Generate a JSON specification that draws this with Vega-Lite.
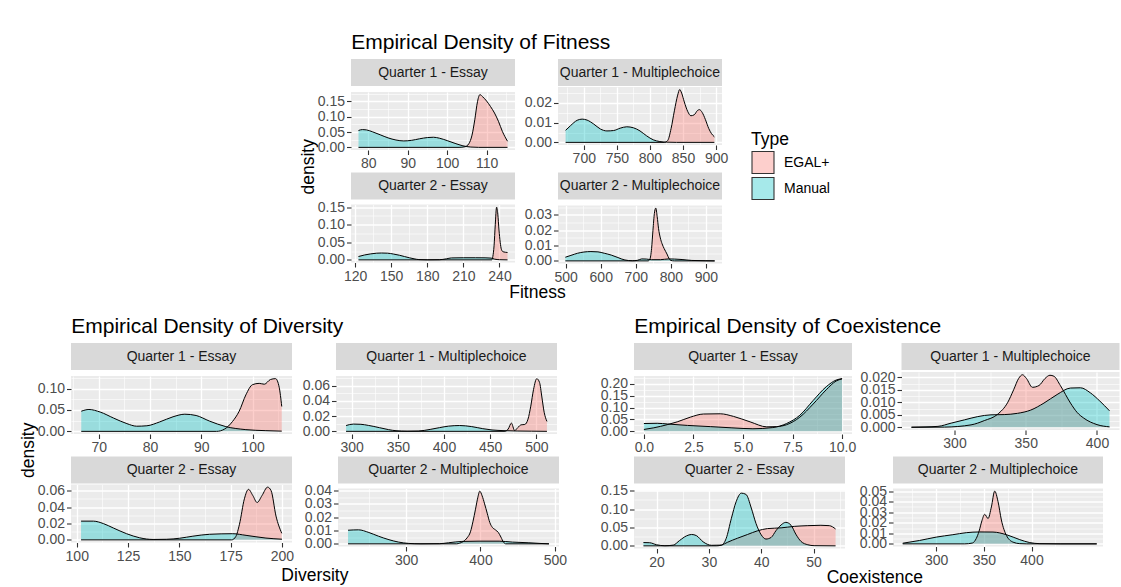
{
"$schema": "https://vega.github.io/schema/vega-lite/v6.json",
"background": "#FFFFFF",
"padding": {"left": 19, "top": 32, "right": 0, "bottom": 0},
"config": {
  "font": "Liberation Sans",
  "view": {"stroke": null},
  "axis": {"domain": false, "grid": true, "gridColor": "#FFFFFF", "tickColor": "#333333", "tickSize": 4.5, "tickWidth": 1.1, "labelColor": "#4D4D4D", "labelFont": "Liberation Sans", "labelFontSize": 14, "labelPadding": 2, "labelFlush": false, "labelOverlap": false, "labelBound": false},
  "legend": {"titleFont": "Liberation Sans", "titleFontSize": 17.5, "titleFontWeight": "normal", "titleColor": "#000000", "labelFont": "Liberation Sans", "labelFontSize": 14, "labelColor": "#000000", "symbolType": "square", "symbolSize": 484, "symbolStrokeColor": "#333333", "symbolStrokeWidth": 1.1, "rowPadding": -3, "titlePadding": 2, "offset": 23, "labelOffset": 9, "layout": {"right": {"anchor": "middle"}}},
  "title": {"font": "Liberation Sans", "fontWeight": "normal", "color": "#000000"}
},
"datasets": {
"fq1e": [
{"T":"Manual","x":77.5,"d":0.055},{"T":"Manual","x":78.5,"d":0.058},{"T":"Manual","x":79.5,"d":0.057},{"T":"Manual","x":81,"d":0.051},{"T":"Manual","x":83,"d":0.041},{"T":"Manual","x":85,"d":0.031},{"T":"Manual","x":87,"d":0.024},{"T":"Manual","x":89,"d":0.021},{"T":"Manual","x":91,"d":0.023},{"T":"Manual","x":93,"d":0.028},{"T":"Manual","x":95,"d":0.032},{"T":"Manual","x":96.5,"d":0.033},{"T":"Manual","x":98,"d":0.03},{"T":"Manual","x":100,"d":0.022},{"T":"Manual","x":102,"d":0.013},{"T":"Manual","x":104,"d":0.005},{"T":"Manual","x":106,"d":0.001},{"T":"Manual","x":108,"d":0},{"T":"Manual","x":115.3,"d":0},
{"T":"EGAL+","x":77.5,"d":0},{"T":"EGAL+","x":103,"d":0},{"T":"EGAL+","x":104.5,"d":0.002},{"T":"EGAL+","x":105.5,"d":0.012},{"T":"EGAL+","x":106.3,"d":0.04},{"T":"EGAL+","x":107,"d":0.09},{"T":"EGAL+","x":107.7,"d":0.15},{"T":"EGAL+","x":108.3,"d":0.172},{"T":"EGAL+","x":109,"d":0.165},{"T":"EGAL+","x":110,"d":0.151},{"T":"EGAL+","x":111,"d":0.133},{"T":"EGAL+","x":112,"d":0.112},{"T":"EGAL+","x":113,"d":0.085},{"T":"EGAL+","x":114,"d":0.052},{"T":"EGAL+","x":115.3,"d":0.02}
],
"fq1mc": [
{"T":"Manual","x":672.5,"d":0.0061},{"T":"Manual","x":680,"d":0.0085},{"T":"Manual","x":690,"d":0.0112},{"T":"Manual","x":697.5,"d":0.0118},{"T":"Manual","x":705,"d":0.0113},{"T":"Manual","x":715,"d":0.0093},{"T":"Manual","x":725,"d":0.0068},{"T":"Manual","x":735,"d":0.0058},{"T":"Manual","x":745,"d":0.006},{"T":"Manual","x":755,"d":0.0072},{"T":"Manual","x":765,"d":0.0079},{"T":"Manual","x":775,"d":0.0074},{"T":"Manual","x":785,"d":0.0058},{"T":"Manual","x":795,"d":0.0033},{"T":"Manual","x":805,"d":0.0013},{"T":"Manual","x":815,"d":0.0004},{"T":"Manual","x":825,"d":0.0001},{"T":"Manual","x":840,"d":0},{"T":"Manual","x":897.5,"d":0},
{"T":"EGAL+","x":672.5,"d":0},{"T":"EGAL+","x":822,"d":0},{"T":"EGAL+","x":827,"d":0.001},{"T":"EGAL+","x":832,"d":0.007},{"T":"EGAL+","x":837,"d":0.016},{"T":"EGAL+","x":842,"d":0.024},{"T":"EGAL+","x":845,"d":0.0268},{"T":"EGAL+","x":848,"d":0.025},{"T":"EGAL+","x":852,"d":0.0205},{"T":"EGAL+","x":857,"d":0.0158},{"T":"EGAL+","x":862,"d":0.0135},{"T":"EGAL+","x":867,"d":0.014},{"T":"EGAL+","x":872,"d":0.0162},{"T":"EGAL+","x":875,"d":0.0166},{"T":"EGAL+","x":879,"d":0.0152},{"T":"EGAL+","x":884,"d":0.0115},{"T":"EGAL+","x":889,"d":0.007},{"T":"EGAL+","x":893,"d":0.0045},{"T":"EGAL+","x":897.5,"d":0.0028}
],
"fq2e": [
{"T":"Manual","x":122.8,"d":0.0095},{"T":"Manual","x":128,"d":0.014},{"T":"Manual","x":133,"d":0.017},{"T":"Manual","x":138,"d":0.019},{"T":"Manual","x":142,"d":0.0195},{"T":"Manual","x":147,"d":0.019},{"T":"Manual","x":152,"d":0.0165},{"T":"Manual","x":157,"d":0.013},{"T":"Manual","x":161,"d":0.0095},{"T":"Manual","x":165,"d":0.006},{"T":"Manual","x":169,"d":0.003},{"T":"Manual","x":173,"d":0.0008},{"T":"Manual","x":180,"d":0.0001},{"T":"Manual","x":190,"d":0.0004},{"T":"Manual","x":196,"d":0.003},{"T":"Manual","x":200,"d":0.0055},{"T":"Manual","x":210,"d":0.006},{"T":"Manual","x":220,"d":0.006},{"T":"Manual","x":228,"d":0.0058},{"T":"Manual","x":233,"d":0.005},{"T":"Manual","x":236,"d":0.002},{"T":"Manual","x":240,"d":0.0005},{"T":"Manual","x":246.7,"d":0},
{"T":"EGAL+","x":122.8,"d":0},{"T":"EGAL+","x":233.5,"d":0},{"T":"EGAL+","x":234.5,"d":0.01},{"T":"EGAL+","x":235.5,"d":0.04},{"T":"EGAL+","x":236.5,"d":0.1},{"T":"EGAL+","x":237.6,"d":0.15},{"T":"EGAL+","x":238.6,"d":0.13},{"T":"EGAL+","x":239.6,"d":0.085},{"T":"EGAL+","x":240.6,"d":0.05},{"T":"EGAL+","x":241.6,"d":0.03},{"T":"EGAL+","x":243,"d":0.023},{"T":"EGAL+","x":246.7,"d":0.021}
],
"fq2mc": [
{"T":"Manual","x":499,"d":0.0024},{"T":"Manual","x":515,"d":0.0036},{"T":"Manual","x":534,"d":0.005},{"T":"Manual","x":552,"d":0.0058},{"T":"Manual","x":572,"d":0.0061},{"T":"Manual","x":592,"d":0.0059},{"T":"Manual","x":610,"d":0.005},{"T":"Manual","x":630,"d":0.0038},{"T":"Manual","x":649,"d":0.0022},{"T":"Manual","x":660,"d":0.0012},{"T":"Manual","x":669,"d":0.0006},{"T":"Manual","x":690,"d":0.0001},{"T":"Manual","x":705,"d":0.0004},{"T":"Manual","x":717,"d":0.0013},{"T":"Manual","x":730,"d":0.0012},{"T":"Manual","x":745,"d":0.0008},{"T":"Manual","x":770,"d":0.0008},{"T":"Manual","x":794,"d":0.0013},{"T":"Manual","x":810,"d":0.0012},{"T":"Manual","x":832,"d":0.0009},{"T":"Manual","x":860,"d":0.0003},{"T":"Manual","x":900,"d":0.0001},{"T":"Manual","x":925,"d":0},
{"T":"EGAL+","x":499,"d":0},{"T":"EGAL+","x":735,"d":0},{"T":"EGAL+","x":740,"d":0.001},{"T":"EGAL+","x":745,"d":0.008},{"T":"EGAL+","x":749,"d":0.02},{"T":"EGAL+","x":753,"d":0.031},{"T":"EGAL+","x":757,"d":0.0345},{"T":"EGAL+","x":761,"d":0.029},{"T":"EGAL+","x":765,"d":0.021},{"T":"EGAL+","x":770,"d":0.015},{"T":"EGAL+","x":775,"d":0.0112},{"T":"EGAL+","x":781,"d":0.008},{"T":"EGAL+","x":789,"d":0.0045},{"T":"EGAL+","x":795,"d":0.0015},{"T":"EGAL+","x":800,"d":0.0003},{"T":"EGAL+","x":810,"d":0},{"T":"EGAL+","x":925,"d":0}
],
"dq1e": [
{"T":"Manual","x":66.6,"d":0.047},{"T":"Manual","x":68.1,"d":0.051},{"T":"Manual","x":70.3,"d":0.045},{"T":"Manual","x":72.9,"d":0.031},{"T":"Manual","x":75.5,"d":0.018},{"T":"Manual","x":77.4,"d":0.012},{"T":"Manual","x":79.4,"d":0.013},{"T":"Manual","x":81.9,"d":0.022},{"T":"Manual","x":84.5,"d":0.034},{"T":"Manual","x":86.8,"d":0.04},{"T":"Manual","x":89,"d":0.037},{"T":"Manual","x":91.6,"d":0.024},{"T":"Manual","x":94.8,"d":0.011},{"T":"Manual","x":98.7,"d":0.004},{"T":"Manual","x":102.6,"d":0.0016},{"T":"Manual","x":105.7,"d":0.0005},
{"T":"EGAL+","x":66.6,"d":0},{"T":"EGAL+","x":93,"d":0},{"T":"EGAL+","x":94.5,"d":0.005},{"T":"EGAL+","x":96.1,"d":0.023},{"T":"EGAL+","x":97.4,"d":0.047},{"T":"EGAL+","x":98.7,"d":0.085},{"T":"EGAL+","x":100,"d":0.109},{"T":"EGAL+","x":101.3,"d":0.112},{"T":"EGAL+","x":102.3,"d":0.11},{"T":"EGAL+","x":103.5,"d":0.121},{"T":"EGAL+","x":104.5,"d":0.123},{"T":"EGAL+","x":105.2,"d":0.103},{"T":"EGAL+","x":105.7,"d":0.058}
],
"dq1mc": [
{"T":"Manual","x":293.9,"d":0.0076},{"T":"Manual","x":301.8,"d":0.0095},{"T":"Manual","x":310,"d":0.0092},{"T":"Manual","x":318,"d":0.0078},{"T":"Manual","x":330,"d":0.0048},{"T":"Manual","x":340,"d":0.0022},{"T":"Manual","x":348,"d":0.0008},{"T":"Manual","x":360,"d":0.0002},{"T":"Manual","x":372,"d":0.0004},{"T":"Manual","x":385,"d":0.0025},{"T":"Manual","x":395,"d":0.0048},{"T":"Manual","x":405,"d":0.0068},{"T":"Manual","x":417,"d":0.0076},{"T":"Manual","x":430,"d":0.0062},{"T":"Manual","x":442,"d":0.0035},{"T":"Manual","x":452,"d":0.0018},{"T":"Manual","x":465,"d":0.0009},{"T":"Manual","x":480,"d":0.0004},{"T":"Manual","x":495,"d":0.0002},{"T":"Manual","x":511.5,"d":0},
{"T":"EGAL+","x":293.9,"d":0},{"T":"EGAL+","x":466,"d":0},{"T":"EGAL+","x":469.5,"d":0.003},{"T":"EGAL+","x":473,"d":0.0108},{"T":"EGAL+","x":476.5,"d":0.001},{"T":"EGAL+","x":480,"d":0.005},{"T":"EGAL+","x":483.5,"d":0.0085},{"T":"EGAL+","x":487.5,"d":0.009},{"T":"EGAL+","x":491,"d":0.016},{"T":"EGAL+","x":494,"d":0.033},{"T":"EGAL+","x":497,"d":0.055},{"T":"EGAL+","x":500.5,"d":0.069},{"T":"EGAL+","x":503.5,"d":0.064},{"T":"EGAL+","x":506,"d":0.045},{"T":"EGAL+","x":508.5,"d":0.025},{"T":"EGAL+","x":511.5,"d":0.013}
],
"dq2e": [
{"T":"Manual","x":102.1,"d":0.0228},{"T":"Manual","x":108.1,"d":0.0228},{"T":"Manual","x":113,"d":0.0198},{"T":"Manual","x":117.8,"d":0.0145},{"T":"Manual","x":124.3,"d":0.0075},{"T":"Manual","x":130.7,"d":0.0025},{"T":"Manual","x":137.2,"d":0.0005},{"T":"Manual","x":143.7,"d":0.0007},{"T":"Manual","x":150.2,"d":0.002},{"T":"Manual","x":156.6,"d":0.0045},{"T":"Manual","x":164.7,"d":0.0068},{"T":"Manual","x":176,"d":0.0075},{"T":"Manual","x":182.5,"d":0.0055},{"T":"Manual","x":192.2,"d":0.0022},{"T":"Manual","x":200,"d":0.0008},
{"T":"EGAL+","x":102.1,"d":0},{"T":"EGAL+","x":175.5,"d":0},{"T":"EGAL+","x":177.5,"d":0.004},{"T":"EGAL+","x":179.3,"d":0.019},{"T":"EGAL+","x":181.7,"d":0.05},{"T":"EGAL+","x":183.7,"d":0.0615},{"T":"EGAL+","x":185.8,"d":0.054},{"T":"EGAL+","x":187.9,"d":0.0455},{"T":"EGAL+","x":190.3,"d":0.054},{"T":"EGAL+","x":193,"d":0.0642},{"T":"EGAL+","x":194.7,"d":0.06},{"T":"EGAL+","x":197.1,"d":0.029},{"T":"EGAL+","x":199.9,"d":0.008}
],
"dq2mc": [
{"T":"Manual","x":222,"d":0.0102},{"T":"Manual","x":236,"d":0.0105},{"T":"Manual","x":250,"d":0.0085},{"T":"Manual","x":263,"d":0.0057},{"T":"Manual","x":277,"d":0.0031},{"T":"Manual","x":290,"d":0.0013},{"T":"Manual","x":303.6,"d":0.0003},{"T":"Manual","x":320,"d":0},{"T":"Manual","x":345,"d":0.0001},{"T":"Manual","x":357,"d":0.0008},{"T":"Manual","x":375,"d":0.0018},{"T":"Manual","x":398,"d":0.002},{"T":"Manual","x":425,"d":0.002},{"T":"Manual","x":443,"d":0.0013},{"T":"Manual","x":465,"d":0.0008},{"T":"Manual","x":480,"d":0.0003},{"T":"Manual","x":492,"d":0},
{"T":"EGAL+","x":222,"d":0},{"T":"EGAL+","x":368,"d":0},{"T":"EGAL+","x":372,"d":0.0005},{"T":"EGAL+","x":377,"d":0.0018},{"T":"EGAL+","x":382,"d":0.0045},{"T":"EGAL+","x":386.5,"d":0.009},{"T":"EGAL+","x":390,"d":0.017},{"T":"EGAL+","x":393.3,"d":0.026},{"T":"EGAL+","x":396.5,"d":0.035},{"T":"EGAL+","x":399,"d":0.0395},{"T":"EGAL+","x":402.2,"d":0.036},{"T":"EGAL+","x":405.5,"d":0.03},{"T":"EGAL+","x":409,"d":0.023},{"T":"EGAL+","x":412.5,"d":0.016},{"T":"EGAL+","x":416,"d":0.0123},{"T":"EGAL+","x":420,"d":0.0105},{"T":"EGAL+","x":424,"d":0.0085},{"T":"EGAL+","x":427.5,"d":0.005},{"T":"EGAL+","x":431,"d":0.0012},{"T":"EGAL+","x":434,"d":0},{"T":"EGAL+","x":492,"d":0}
],
"cq1e": [
{"T":"Manual","x":0,"d":0.033},{"T":"Manual","x":0.67,"d":0.034},{"T":"Manual","x":1.2,"d":0.031},{"T":"Manual","x":2.2,"d":0.025},{"T":"Manual","x":3.35,"d":0.02},{"T":"Manual","x":4.4,"d":0.015},{"T":"Manual","x":5.5,"d":0.011},{"T":"Manual","x":6.5,"d":0.016},{"T":"Manual","x":7.2,"d":0.033},{"T":"Manual","x":7.87,"d":0.068},{"T":"Manual","x":8.54,"d":0.13},{"T":"Manual","x":9.2,"d":0.188},{"T":"Manual","x":9.7,"d":0.216},{"T":"Manual","x":10,"d":0.222},
{"T":"EGAL+","x":0,"d":0.008},{"T":"EGAL+","x":0.5,"d":0.015},{"T":"EGAL+","x":1.17,"d":0.028},{"T":"EGAL+","x":1.68,"d":0.04},{"T":"EGAL+","x":2.35,"d":0.06},{"T":"EGAL+","x":3,"d":0.073},{"T":"EGAL+","x":3.85,"d":0.074},{"T":"EGAL+","x":4.52,"d":0.063},{"T":"EGAL+","x":5.36,"d":0.04},{"T":"EGAL+","x":6.2,"d":0.019},{"T":"EGAL+","x":6.7,"d":0.02},{"T":"EGAL+","x":7.2,"d":0.028},{"T":"EGAL+","x":7.87,"d":0.06},{"T":"EGAL+","x":8.54,"d":0.115},{"T":"EGAL+","x":9.2,"d":0.175},{"T":"EGAL+","x":9.7,"d":0.212},{"T":"EGAL+","x":10,"d":0.221}
],
"cq1mc": [
{"T":"Manual","x":269.8,"d":0.0001},{"T":"Manual","x":280,"d":0.0002},{"T":"Manual","x":288.4,"d":0.0004},{"T":"Manual","x":297.7,"d":0.0017},{"T":"Manual","x":307,"d":0.003},{"T":"Manual","x":316.3,"d":0.0043},{"T":"Manual","x":325.6,"d":0.005},{"T":"Manual","x":334.9,"d":0.0051},{"T":"Manual","x":344.2,"d":0.0056},{"T":"Manual","x":353.5,"d":0.0069},{"T":"Manual","x":362.8,"d":0.0097},{"T":"Manual","x":372,"d":0.0131},{"T":"Manual","x":381.4,"d":0.0157},{"T":"Manual","x":388.4,"d":0.0158},{"T":"Manual","x":395.3,"d":0.0138},{"T":"Manual","x":402,"d":0.0105},{"T":"Manual","x":408.8,"d":0.0066},
{"T":"EGAL+","x":269.8,"d":0},{"T":"EGAL+","x":293,"d":0.0001},{"T":"EGAL+","x":311.6,"d":0.001},{"T":"EGAL+","x":320.9,"d":0.0027},{"T":"EGAL+","x":330.2,"d":0.0052},{"T":"EGAL+","x":337.2,"d":0.0098},{"T":"EGAL+","x":341.5,"d":0.015},{"T":"EGAL+","x":345,"d":0.0195},{"T":"EGAL+","x":347.7,"d":0.021},{"T":"EGAL+","x":350.5,"d":0.0195},{"T":"EGAL+","x":354.7,"d":0.016},{"T":"EGAL+","x":359.3,"d":0.0167},{"T":"EGAL+","x":363.5,"d":0.0195},{"T":"EGAL+","x":367,"d":0.0208},{"T":"EGAL+","x":369.8,"d":0.0204},{"T":"EGAL+","x":374.4,"d":0.0166},{"T":"EGAL+","x":381.4,"d":0.0097},{"T":"EGAL+","x":386,"d":0.006},{"T":"EGAL+","x":390.7,"d":0.0037},{"T":"EGAL+","x":400,"d":0.0011},{"T":"EGAL+","x":408.8,"d":0.0002}
],
"cq2e": [
{"T":"Manual","x":17.5,"d":0.009},{"T":"Manual","x":18.7,"d":0.0085},{"T":"Manual","x":20,"d":0.003},{"T":"Manual","x":21.6,"d":0.0003},{"T":"Manual","x":23.2,"d":0.002},{"T":"Manual","x":24.4,"d":0.0145},{"T":"Manual","x":25.7,"d":0.027},{"T":"Manual","x":26.7,"d":0.031},{"T":"Manual","x":27.6,"d":0.028},{"T":"Manual","x":28.9,"d":0.011},{"T":"Manual","x":30.5,"d":0.0015},{"T":"Manual","x":32.4,"d":0.002},{"T":"Manual","x":33.3,"d":0.02},{"T":"Manual","x":34.3,"d":0.075},{"T":"Manual","x":35.2,"d":0.12},{"T":"Manual","x":36.2,"d":0.1435},{"T":"Manual","x":37.1,"d":0.14},{"T":"Manual","x":38.1,"d":0.103},{"T":"Manual","x":39,"d":0.061},{"T":"Manual","x":40,"d":0.03},{"T":"Manual","x":40.9,"d":0.0185},{"T":"Manual","x":41.9,"d":0.023},{"T":"Manual","x":42.8,"d":0.041},{"T":"Manual","x":43.8,"d":0.057},{"T":"Manual","x":44.7,"d":0.064},{"T":"Manual","x":45.7,"d":0.056},{"T":"Manual","x":46.6,"d":0.032},{"T":"Manual","x":47.6,"d":0.012},{"T":"Manual","x":48.9,"d":0.003},{"T":"Manual","x":50.1,"d":0.0005},{"T":"Manual","x":54.2,"d":0},
{"T":"EGAL+","x":17.5,"d":0},{"T":"EGAL+","x":31.5,"d":0},{"T":"EGAL+","x":32.4,"d":0.002},{"T":"EGAL+","x":33.6,"d":0.01},{"T":"EGAL+","x":35.5,"d":0.021},{"T":"EGAL+","x":37.4,"d":0.031},{"T":"EGAL+","x":39.3,"d":0.041},{"T":"EGAL+","x":41.2,"d":0.047},{"T":"EGAL+","x":43.8,"d":0.049},{"T":"EGAL+","x":46.3,"d":0.053},{"T":"EGAL+","x":48.9,"d":0.055},{"T":"EGAL+","x":51.4,"d":0.056},{"T":"EGAL+","x":53,"d":0.055},{"T":"EGAL+","x":54.2,"d":0.046}
],
"cq2mc": [
{"T":"Manual","x":264.9,"d":0.0006},{"T":"Manual","x":282.5,"d":0.0032},{"T":"Manual","x":300,"d":0.0064},{"T":"Manual","x":317.5,"d":0.0087},{"T":"Manual","x":331.6,"d":0.0106},{"T":"Manual","x":345.6,"d":0.0113},{"T":"Manual","x":359.6,"d":0.0112},{"T":"Manual","x":373.7,"d":0.0087},{"T":"Manual","x":387.7,"d":0.004},{"T":"Manual","x":398.2,"d":0.0012},{"T":"Manual","x":408.8,"d":0.0002},{"T":"Manual","x":430,"d":0},{"T":"Manual","x":468.4,"d":0},
{"T":"EGAL+","x":264.9,"d":0},{"T":"EGAL+","x":330,"d":0},{"T":"EGAL+","x":338,"d":0.0008},{"T":"EGAL+","x":342,"d":0.005},{"T":"EGAL+","x":345,"d":0.012},{"T":"EGAL+","x":348,"d":0.022},{"T":"EGAL+","x":350.9,"d":0.028},{"T":"EGAL+","x":354.4,"d":0.024},{"T":"EGAL+","x":357.9,"d":0.035},{"T":"EGAL+","x":361.4,"d":0.05},{"T":"EGAL+","x":364.9,"d":0.04},{"T":"EGAL+","x":368.4,"d":0.0226},{"T":"EGAL+","x":373.7,"d":0.008},{"T":"EGAL+","x":380.7,"d":0.0016},{"T":"EGAL+","x":387.7,"d":0.0002},{"T":"EGAL+","x":395,"d":0},{"T":"EGAL+","x":468.4,"d":0}
]
},
"spacing": 14,
"resolve": {"scale": {"fill": "independent"}, "legend": {"fill": "independent"}},
"vconcat": [
{"spacing": 0, "hconcat": [
{"width": 228, "height": 10, "data": {"values": []}, "mark": {"type": "text"}, "encoding": {}},
{
 "title": {"text": "density", "orient": "left", "anchor": "middle", "fontSize": 17.5, "offset": 0},
 "vconcat": [{
  "title": {"text": "Fitness", "orient": "bottom", "anchor": "middle", "fontSize": 17.5, "offset": 0, "dx": 15},
  "vconcat": [{
   "title": {"text": "Empirical Density of Fitness", "anchor": "start", "fontSize": 21, "offset": 6, "dx": 34},
   "spacing": 1.5,
   "vconcat": [
    {"spacing": 9, "hconcat": [
     {"spacing": 0, "vconcat": [
      {"width": 164, "height": 27, "view": {"fill": "#D9D9D9", "stroke": null}, "data": {"values": [{"s": "Quarter 1 - Essay"}]}, "mark": {"type": "text", "fontSize": 14, "color": "#1A1A1A", "font": "Liberation Sans"}, "encoding": {"text": {"field": "s", "type": "nominal"}}},
      {"width": 164, "height": 58, "view": {"fill": "#EBEBEB", "stroke": null}, "data": {"name": "fq1e"},
       "encoding": {
        "x": {"field": "x", "type": "quantitative", "scale": {"domain": [75.6, 117.2], "nice": false, "zero": false}, "axis": {"title": null, "values": [80,85,90,95,100,105,110,115], "format": "d", "labelExpr": "abs(datum.value/10-round(datum.value/10))>0.01?'':datum.label", "gridWidth": {"condition": {"test": "abs(datum.value/10-round(datum.value/10))>0.01", "value": 0.6}, "value": 1.3}, "tickOpacity": {"condition": {"test": "abs(datum.value/10-round(datum.value/10))>0.01", "value": 0}, "value": 1}}},
        "y": {"field": "d", "type": "quantitative", "scale": {"domain": [-0.0086, 0.1806], "nice": false, "zero": false}, "axis": {"title": null, "values": [0,0.025,0.05,0.075,0.1,0.125,0.15,0.175], "format": ".2f", "labelExpr": "abs(datum.value/0.05-round(datum.value/0.05))>0.01?'':datum.label", "gridWidth": {"condition": {"test": "abs(datum.value/0.05-round(datum.value/0.05))>0.01", "value": 0.6}, "value": 1.3}, "tickOpacity": {"condition": {"test": "abs(datum.value/0.05-round(datum.value/0.05))>0.01", "value": 0}, "value": 1}}}
       },
       "layer": [
        {"transform": [{"filter": "datum.T == 'EGAL+'"}], "mark": {"type": "area", "interpolate": "monotone", "fillOpacity": 0.35}, "encoding": {"fill": {"field": "T", "type": "nominal", "scale": {"domain": ["EGAL+", "Manual"], "range": ["#F8766D", "#00BFC4"]}, "legend": {"title": "Type", "encode": {"symbols": {"update": {"fillOpacity": {"value": 0.35}, "stroke": {"value": "#333333"}, "strokeWidth": {"value": 1.1}}}}}}, "y2": {"datum": 0}}},
        {"transform": [{"filter": "datum.T == 'Manual'"}], "mark": {"type": "area", "interpolate": "monotone", "fillOpacity": 0.35}, "encoding": {"fill": {"field": "T", "type": "nominal", "scale": {"domain": ["EGAL+", "Manual"], "range": ["#F8766D", "#00BFC4"]}, "legend": {"title": "Type", "encode": {"symbols": {"update": {"fillOpacity": {"value": 0.35}, "stroke": {"value": "#333333"}, "strokeWidth": {"value": 1.1}}}}}}, "y2": {"datum": 0}}},
        {"mark": {"type": "line", "interpolate": "monotone", "color": "#000000", "strokeWidth": 1}, "encoding": {"detail": {"field": "T", "type": "nominal"}}}
       ]}
     ]},
     {"spacing": 0, "vconcat": [
      {"width": 164, "height": 27, "view": {"fill": "#D9D9D9", "stroke": null}, "data": {"values": [{"s": "Quarter 1 - Multiplechoice"}]}, "mark": {"type": "text", "fontSize": 14, "color": "#1A1A1A", "font": "Liberation Sans"}, "encoding": {"text": {"field": "s", "type": "nominal"}}},
      {"width": 164, "height": 58, "view": {"fill": "#EBEBEB", "stroke": null}, "data": {"name": "fq1mc"},
       "encoding": {
        "x": {"field": "x", "type": "quantitative", "scale": {"domain": [661, 909], "nice": false, "zero": false}, "axis": {"title": null, "values": [675,700,725,750,775,800,825,850,875,900], "format": "d", "labelExpr": "abs(datum.value/50-round(datum.value/50))>0.01?'':datum.label", "gridWidth": {"condition": {"test": "abs(datum.value/50-round(datum.value/50))>0.01", "value": 0.6}, "value": 1.3}, "tickOpacity": {"condition": {"test": "abs(datum.value/50-round(datum.value/50))>0.01", "value": 0}, "value": 1}}},
        "y": {"field": "d", "type": "quantitative", "scale": {"domain": [-0.00134, 0.0281], "nice": false, "zero": false}, "axis": {"title": null, "values": [0,0.005,0.01,0.015,0.02,0.025], "format": ".2f", "labelExpr": "abs(datum.value/0.01-round(datum.value/0.01))>0.01?'':datum.label", "gridWidth": {"condition": {"test": "abs(datum.value/0.01-round(datum.value/0.01))>0.01", "value": 0.6}, "value": 1.3}, "tickOpacity": {"condition": {"test": "abs(datum.value/0.01-round(datum.value/0.01))>0.01", "value": 0}, "value": 1}}}
       },
       "layer": [
        {"transform": [{"filter": "datum.T == 'EGAL+'"}], "mark": {"type": "area", "interpolate": "monotone", "fillOpacity": 0.35}, "encoding": {"fill": {"field": "T", "type": "nominal", "scale": {"domain": ["EGAL+", "Manual"], "range": ["#F8766D", "#00BFC4"]}, "legend": null}, "y2": {"datum": 0}}},
        {"transform": [{"filter": "datum.T == 'Manual'"}], "mark": {"type": "area", "interpolate": "monotone", "fillOpacity": 0.35}, "encoding": {"fill": {"field": "T", "type": "nominal", "scale": {"domain": ["EGAL+", "Manual"], "range": ["#F8766D", "#00BFC4"]}, "legend": null}, "y2": {"datum": 0}}},
        {"mark": {"type": "line", "interpolate": "monotone", "color": "#000000", "strokeWidth": 1}, "encoding": {"detail": {"field": "T", "type": "nominal"}}}
       ]}
     ]}
    ]},
    {"spacing": 9, "hconcat": [
     {"spacing": 0, "vconcat": [
      {"width": 164, "height": 27, "view": {"fill": "#D9D9D9", "stroke": null}, "data": {"values": [{"s": "Quarter 2 - Essay"}]}, "mark": {"type": "text", "fontSize": 14, "color": "#1A1A1A", "font": "Liberation Sans"}, "encoding": {"text": {"field": "s", "type": "nominal"}}},
      {"width": 164, "height": 58, "view": {"fill": "#EBEBEB", "stroke": null}, "data": {"name": "fq2e"},
       "encoding": {
        "x": {"field": "x", "type": "quantitative", "scale": {"domain": [116.6, 252.9], "nice": false, "zero": false}, "axis": {"title": null, "values": [120,135,150,165,180,195,210,225,240], "format": "d", "labelExpr": "abs(datum.value/30-round(datum.value/30))>0.01?'':datum.label", "gridWidth": {"condition": {"test": "abs(datum.value/30-round(datum.value/30))>0.01", "value": 0.6}, "value": 1.3}, "tickOpacity": {"condition": {"test": "abs(datum.value/30-round(datum.value/30))>0.01", "value": 0}, "value": 1}}},
        "y": {"field": "d", "type": "quantitative", "scale": {"domain": [-0.0075, 0.1575], "nice": false, "zero": false}, "axis": {"title": null, "values": [0,0.025,0.05,0.075,0.1,0.125,0.15], "format": ".2f", "labelExpr": "abs(datum.value/0.05-round(datum.value/0.05))>0.01?'':datum.label", "gridWidth": {"condition": {"test": "abs(datum.value/0.05-round(datum.value/0.05))>0.01", "value": 0.6}, "value": 1.3}, "tickOpacity": {"condition": {"test": "abs(datum.value/0.05-round(datum.value/0.05))>0.01", "value": 0}, "value": 1}}}
       },
       "layer": [
        {"transform": [{"filter": "datum.T == 'EGAL+'"}], "mark": {"type": "area", "interpolate": "monotone", "fillOpacity": 0.35}, "encoding": {"fill": {"field": "T", "type": "nominal", "scale": {"domain": ["EGAL+", "Manual"], "range": ["#F8766D", "#00BFC4"]}, "legend": null}, "y2": {"datum": 0}}},
        {"transform": [{"filter": "datum.T == 'Manual'"}], "mark": {"type": "area", "interpolate": "monotone", "fillOpacity": 0.35}, "encoding": {"fill": {"field": "T", "type": "nominal", "scale": {"domain": ["EGAL+", "Manual"], "range": ["#F8766D", "#00BFC4"]}, "legend": null}, "y2": {"datum": 0}}},
        {"mark": {"type": "line", "interpolate": "monotone", "color": "#000000", "strokeWidth": 1}, "encoding": {"detail": {"field": "T", "type": "nominal"}}}
       ]}
     ]},
     {"spacing": 0, "vconcat": [
      {"width": 164, "height": 27, "view": {"fill": "#D9D9D9", "stroke": null}, "data": {"values": [{"s": "Quarter 2 - Multiplechoice"}]}, "mark": {"type": "text", "fontSize": 14, "color": "#1A1A1A", "font": "Liberation Sans"}, "encoding": {"text": {"field": "s", "type": "nominal"}}},
      {"width": 164, "height": 58, "view": {"fill": "#EBEBEB", "stroke": null}, "data": {"name": "fq2mc"},
       "encoding": {
        "x": {"field": "x", "type": "quantitative", "scale": {"domain": [478, 946], "nice": false, "zero": false}, "axis": {"title": null, "values": [500,550,600,650,700,750,800,850,900], "format": "d", "labelExpr": "abs(datum.value/100-round(datum.value/100))>0.01?'':datum.label", "gridWidth": {"condition": {"test": "abs(datum.value/100-round(datum.value/100))>0.01", "value": 0.6}, "value": 1.3}, "tickOpacity": {"condition": {"test": "abs(datum.value/100-round(datum.value/100))>0.01", "value": 0}, "value": 1}}},
        "y": {"field": "d", "type": "quantitative", "scale": {"domain": [-0.0017, 0.0362], "nice": false, "zero": false}, "axis": {"title": null, "values": [0,0.005,0.01,0.015,0.02,0.025,0.03,0.035], "format": ".2f", "labelExpr": "abs(datum.value/0.01-round(datum.value/0.01))>0.01?'':datum.label", "gridWidth": {"condition": {"test": "abs(datum.value/0.01-round(datum.value/0.01))>0.01", "value": 0.6}, "value": 1.3}, "tickOpacity": {"condition": {"test": "abs(datum.value/0.01-round(datum.value/0.01))>0.01", "value": 0}, "value": 1}}}
       },
       "layer": [
        {"transform": [{"filter": "datum.T == 'EGAL+'"}], "mark": {"type": "area", "interpolate": "monotone", "fillOpacity": 0.35}, "encoding": {"fill": {"field": "T", "type": "nominal", "scale": {"domain": ["EGAL+", "Manual"], "range": ["#F8766D", "#00BFC4"]}, "legend": null}, "y2": {"datum": 0}}},
        {"transform": [{"filter": "datum.T == 'Manual'"}], "mark": {"type": "area", "interpolate": "monotone", "fillOpacity": 0.35}, "encoding": {"fill": {"field": "T", "type": "nominal", "scale": {"domain": ["EGAL+", "Manual"], "range": ["#F8766D", "#00BFC4"]}, "legend": null}, "y2": {"datum": 0}}},
        {"mark": {"type": "line", "interpolate": "monotone", "color": "#000000", "strokeWidth": 1}, "encoding": {"detail": {"field": "T", "type": "nominal"}}}
       ]}
     ]}
    ]}
   ]
  }]
 }]
}
]},
{"spacing": 33, "hconcat": [
{
 "title": {"text": "density", "orient": "left", "anchor": "middle", "fontSize": 17.5, "offset": 0},
 "vconcat": [{
  "title": {"text": "Diversity", "orient": "bottom", "anchor": "middle", "fontSize": 17.5, "offset": 0, "dx": 13},
  "vconcat": [{
   "title": {"text": "Empirical Density of Diversity", "anchor": "start", "fontSize": 21, "offset": 6, "dx": 34},
   "spacing": 1.5,
   "vconcat": [
    {"spacing": 10, "hconcat": [
     {"spacing": 0, "vconcat": [
      {"width": 221, "height": 27, "view": {"fill": "#D9D9D9", "stroke": null}, "data": {"values": [{"s": "Quarter 1 - Essay"}]}, "mark": {"type": "text", "fontSize": 14, "color": "#1A1A1A", "font": "Liberation Sans"}, "encoding": {"text": {"field": "s", "type": "nominal"}}},
      {"width": 221, "height": 58, "view": {"fill": "#EBEBEB", "stroke": null}, "data": {"name": "dq1e"},
       "encoding": {
        "x": {"field": "x", "type": "quantitative", "scale": {"domain": [64.6, 107.7], "nice": false, "zero": false}, "axis": {"title": null, "values": [65,70,75,80,85,90,95,100,105], "format": "d", "labelExpr": "abs(datum.value/10-round(datum.value/10))>0.01?'':datum.label", "gridWidth": {"condition": {"test": "abs(datum.value/10-round(datum.value/10))>0.01", "value": 0.6}, "value": 1.3}, "tickOpacity": {"condition": {"test": "abs(datum.value/10-round(datum.value/10))>0.01", "value": 0}, "value": 1}}},
        "y": {"field": "d", "type": "quantitative", "scale": {"domain": [-0.0062, 0.1292], "nice": false, "zero": false}, "axis": {"title": null, "values": [0,0.025,0.05,0.075,0.1,0.125], "format": ".2f", "labelExpr": "abs(datum.value/0.05-round(datum.value/0.05))>0.01?'':datum.label", "gridWidth": {"condition": {"test": "abs(datum.value/0.05-round(datum.value/0.05))>0.01", "value": 0.6}, "value": 1.3}, "tickOpacity": {"condition": {"test": "abs(datum.value/0.05-round(datum.value/0.05))>0.01", "value": 0}, "value": 1}}}
       },
       "layer": [
        {"transform": [{"filter": "datum.T == 'EGAL+'"}], "mark": {"type": "area", "interpolate": "monotone", "fillOpacity": 0.35}, "encoding": {"fill": {"field": "T", "type": "nominal", "scale": {"domain": ["EGAL+", "Manual"], "range": ["#F8766D", "#00BFC4"]}, "legend": null}, "y2": {"datum": 0}}},
        {"transform": [{"filter": "datum.T == 'Manual'"}], "mark": {"type": "area", "interpolate": "monotone", "fillOpacity": 0.35}, "encoding": {"fill": {"field": "T", "type": "nominal", "scale": {"domain": ["EGAL+", "Manual"], "range": ["#F8766D", "#00BFC4"]}, "legend": null}, "y2": {"datum": 0}}},
        {"mark": {"type": "line", "interpolate": "monotone", "color": "#000000", "strokeWidth": 1}, "encoding": {"detail": {"field": "T", "type": "nominal"}}}
       ]}
     ]},
     {"spacing": 0, "vconcat": [
      {"width": 221, "height": 27, "view": {"fill": "#D9D9D9", "stroke": null}, "data": {"values": [{"s": "Quarter 1 - Multiplechoice"}]}, "mark": {"type": "text", "fontSize": 14, "color": "#1A1A1A", "font": "Liberation Sans"}, "encoding": {"text": {"field": "s", "type": "nominal"}}},
      {"width": 221, "height": 58, "view": {"fill": "#EBEBEB", "stroke": null}, "data": {"name": "dq1mc"},
       "encoding": {
        "x": {"field": "x", "type": "quantitative", "scale": {"domain": [283, 522.4], "nice": false, "zero": false}, "axis": {"title": null, "values": [300,325,350,375,400,425,450,475,500], "format": "d", "labelExpr": "abs(datum.value/50-round(datum.value/50))>0.01?'':datum.label", "gridWidth": {"condition": {"test": "abs(datum.value/50-round(datum.value/50))>0.01", "value": 0.6}, "value": 1.3}, "tickOpacity": {"condition": {"test": "abs(datum.value/50-round(datum.value/50))>0.01", "value": 0}, "value": 1}}},
        "y": {"field": "d", "type": "quantitative", "scale": {"domain": [-0.0035, 0.0725], "nice": false, "zero": false}, "axis": {"title": null, "values": [0,0.01,0.02,0.03,0.04,0.05,0.06,0.07], "format": ".2f", "labelExpr": "abs(datum.value/0.02-round(datum.value/0.02))>0.01?'':datum.label", "gridWidth": {"condition": {"test": "abs(datum.value/0.02-round(datum.value/0.02))>0.01", "value": 0.6}, "value": 1.3}, "tickOpacity": {"condition": {"test": "abs(datum.value/0.02-round(datum.value/0.02))>0.01", "value": 0}, "value": 1}}}
       },
       "layer": [
        {"transform": [{"filter": "datum.T == 'EGAL+'"}], "mark": {"type": "area", "interpolate": "monotone", "fillOpacity": 0.35}, "encoding": {"fill": {"field": "T", "type": "nominal", "scale": {"domain": ["EGAL+", "Manual"], "range": ["#F8766D", "#00BFC4"]}, "legend": null}, "y2": {"datum": 0}}},
        {"transform": [{"filter": "datum.T == 'Manual'"}], "mark": {"type": "area", "interpolate": "monotone", "fillOpacity": 0.35}, "encoding": {"fill": {"field": "T", "type": "nominal", "scale": {"domain": ["EGAL+", "Manual"], "range": ["#F8766D", "#00BFC4"]}, "legend": null}, "y2": {"datum": 0}}},
        {"mark": {"type": "line", "interpolate": "monotone", "color": "#000000", "strokeWidth": 1}, "encoding": {"detail": {"field": "T", "type": "nominal"}}}
       ]}
     ]}
    ]},
    {"spacing": 10, "hconcat": [
     {"spacing": 0, "vconcat": [
      {"width": 221, "height": 27, "view": {"fill": "#D9D9D9", "stroke": null}, "data": {"values": [{"s": "Quarter 2 - Essay"}]}, "mark": {"type": "text", "fontSize": 14, "color": "#1A1A1A", "font": "Liberation Sans"}, "encoding": {"text": {"field": "s", "type": "nominal"}}},
      {"width": 221, "height": 58, "view": {"fill": "#EBEBEB", "stroke": null}, "data": {"name": "dq2e"},
       "encoding": {
        "x": {"field": "x", "type": "quantitative", "scale": {"domain": [97.2, 204.9], "nice": false, "zero": false}, "axis": {"title": null, "values": [100,112.5,125,137.5,150,162.5,175,187.5,200], "format": "d", "labelExpr": "abs(datum.value/25-round(datum.value/25))>0.01?'':datum.label", "gridWidth": {"condition": {"test": "abs(datum.value/25-round(datum.value/25))>0.01", "value": 0.6}, "value": 1.3}, "tickOpacity": {"condition": {"test": "abs(datum.value/25-round(datum.value/25))>0.01", "value": 0}, "value": 1}}},
        "y": {"field": "d", "type": "quantitative", "scale": {"domain": [-0.0032, 0.0674], "nice": false, "zero": false}, "axis": {"title": null, "values": [0,0.01,0.02,0.03,0.04,0.05,0.06], "format": ".2f", "labelExpr": "abs(datum.value/0.02-round(datum.value/0.02))>0.01?'':datum.label", "gridWidth": {"condition": {"test": "abs(datum.value/0.02-round(datum.value/0.02))>0.01", "value": 0.6}, "value": 1.3}, "tickOpacity": {"condition": {"test": "abs(datum.value/0.02-round(datum.value/0.02))>0.01", "value": 0}, "value": 1}}}
       },
       "layer": [
        {"transform": [{"filter": "datum.T == 'EGAL+'"}], "mark": {"type": "area", "interpolate": "monotone", "fillOpacity": 0.35}, "encoding": {"fill": {"field": "T", "type": "nominal", "scale": {"domain": ["EGAL+", "Manual"], "range": ["#F8766D", "#00BFC4"]}, "legend": null}, "y2": {"datum": 0}}},
        {"transform": [{"filter": "datum.T == 'Manual'"}], "mark": {"type": "area", "interpolate": "monotone", "fillOpacity": 0.35}, "encoding": {"fill": {"field": "T", "type": "nominal", "scale": {"domain": ["EGAL+", "Manual"], "range": ["#F8766D", "#00BFC4"]}, "legend": null}, "y2": {"datum": 0}}},
        {"mark": {"type": "line", "interpolate": "monotone", "color": "#000000", "strokeWidth": 1}, "encoding": {"detail": {"field": "T", "type": "nominal"}}}
       ]}
     ]},
     {"spacing": 0, "vconcat": [
      {"width": 221, "height": 27, "view": {"fill": "#D9D9D9", "stroke": null}, "data": {"values": [{"s": "Quarter 2 - Multiplechoice"}]}, "mark": {"type": "text", "fontSize": 14, "color": "#1A1A1A", "font": "Liberation Sans"}, "encoding": {"text": {"field": "s", "type": "nominal"}}},
      {"width": 221, "height": 58, "view": {"fill": "#EBEBEB", "stroke": null}, "data": {"name": "dq2mc"},
       "encoding": {
        "x": {"field": "x", "type": "quantitative", "scale": {"domain": [208.5, 505.5], "nice": false, "zero": false}, "axis": {"title": null, "values": [250,300,350,400,450,500], "format": "d", "labelExpr": "abs(datum.value/100-round(datum.value/100))>0.01?'':datum.label", "gridWidth": {"condition": {"test": "abs(datum.value/100-round(datum.value/100))>0.01", "value": 0.6}, "value": 1.3}, "tickOpacity": {"condition": {"test": "abs(datum.value/100-round(datum.value/100))>0.01", "value": 0}, "value": 1}}},
        "y": {"field": "d", "type": "quantitative", "scale": {"domain": [-0.002, 0.0415], "nice": false, "zero": false}, "axis": {"title": null, "values": [0,0.005,0.01,0.015,0.02,0.025,0.03,0.035,0.04], "format": ".2f", "labelExpr": "abs(datum.value/0.01-round(datum.value/0.01))>0.01?'':datum.label", "gridWidth": {"condition": {"test": "abs(datum.value/0.01-round(datum.value/0.01))>0.01", "value": 0.6}, "value": 1.3}, "tickOpacity": {"condition": {"test": "abs(datum.value/0.01-round(datum.value/0.01))>0.01", "value": 0}, "value": 1}}}
       },
       "layer": [
        {"transform": [{"filter": "datum.T == 'EGAL+'"}], "mark": {"type": "area", "interpolate": "monotone", "fillOpacity": 0.35}, "encoding": {"fill": {"field": "T", "type": "nominal", "scale": {"domain": ["EGAL+", "Manual"], "range": ["#F8766D", "#00BFC4"]}, "legend": null}, "y2": {"datum": 0}}},
        {"transform": [{"filter": "datum.T == 'Manual'"}], "mark": {"type": "area", "interpolate": "monotone", "fillOpacity": 0.35}, "encoding": {"fill": {"field": "T", "type": "nominal", "scale": {"domain": ["EGAL+", "Manual"], "range": ["#F8766D", "#00BFC4"]}, "legend": null}, "y2": {"datum": 0}}},
        {"mark": {"type": "line", "interpolate": "monotone", "color": "#000000", "strokeWidth": 1}, "encoding": {"detail": {"field": "T", "type": "nominal"}}}
       ]}
     ]}
    ]}
   ]
  }]
 }]
},
{
 "title": {"text": "Coexistence", "orient": "bottom", "anchor": "middle", "fontSize": 17.5, "offset": 0, "dx": 15},
 "vconcat": [{
  "title": {"text": "Empirical Density of Coexistence", "anchor": "start", "fontSize": 21, "offset": 6, "dx": 34},
  "spacing": 1.5,
  "vconcat": [
   {"spacing": 3.5, "hconcat": [
    {"spacing": 0, "vconcat": [
     {"width": 218, "height": 27, "view": {"fill": "#D9D9D9", "stroke": null}, "data": {"values": [{"s": "Quarter 1 - Essay"}]}, "mark": {"type": "text", "fontSize": 14, "color": "#1A1A1A", "font": "Liberation Sans"}, "encoding": {"text": {"field": "s", "type": "nominal"}}},
     {"width": 218, "height": 58, "view": {"fill": "#EBEBEB", "stroke": null}, "data": {"name": "cq1e"},
      "encoding": {
       "x": {"field": "x", "type": "quantitative", "scale": {"domain": [-0.5, 10.5], "nice": false, "zero": false}, "axis": {"title": null, "values": [0,1.25,2.5,3.75,5,6.25,7.5,8.75,10], "format": ".1f", "labelExpr": "abs(datum.value/2.5-round(datum.value/2.5))>0.01?'':datum.label", "gridWidth": {"condition": {"test": "abs(datum.value/2.5-round(datum.value/2.5))>0.01", "value": 0.6}, "value": 1.3}, "tickOpacity": {"condition": {"test": "abs(datum.value/2.5-round(datum.value/2.5))>0.01", "value": 0}, "value": 1}}},
       "y": {"field": "d", "type": "quantitative", "scale": {"domain": [-0.0111, 0.2331], "nice": false, "zero": false}, "axis": {"title": null, "values": [0,0.025,0.05,0.075,0.1,0.125,0.15,0.175,0.2,0.225], "format": ".2f", "labelExpr": "abs(datum.value/0.05-round(datum.value/0.05))>0.01?'':datum.label", "gridWidth": {"condition": {"test": "abs(datum.value/0.05-round(datum.value/0.05))>0.01", "value": 0.6}, "value": 1.3}, "tickOpacity": {"condition": {"test": "abs(datum.value/0.05-round(datum.value/0.05))>0.01", "value": 0}, "value": 1}}}
      },
      "layer": [
       {"transform": [{"filter": "datum.T == 'EGAL+'"}], "mark": {"type": "area", "interpolate": "monotone", "fillOpacity": 0.35}, "encoding": {"fill": {"field": "T", "type": "nominal", "scale": {"domain": ["EGAL+", "Manual"], "range": ["#F8766D", "#00BFC4"]}, "legend": null}, "y2": {"datum": 0}}},
       {"transform": [{"filter": "datum.T == 'Manual'"}], "mark": {"type": "area", "interpolate": "monotone", "fillOpacity": 0.35}, "encoding": {"fill": {"field": "T", "type": "nominal", "scale": {"domain": ["EGAL+", "Manual"], "range": ["#F8766D", "#00BFC4"]}, "legend": null}, "y2": {"datum": 0}}},
       {"mark": {"type": "line", "interpolate": "monotone", "color": "#000000", "strokeWidth": 1}, "encoding": {"detail": {"field": "T", "type": "nominal"}}}
      ]}
    ]},
    {"spacing": 0, "vconcat": [
     {"width": 218, "height": 27, "view": {"fill": "#D9D9D9", "stroke": null}, "data": {"values": [{"s": "Quarter 1 - Multiplechoice"}]}, "mark": {"type": "text", "fontSize": 14, "color": "#1A1A1A", "font": "Liberation Sans"}, "encoding": {"text": {"field": "s", "type": "nominal"}}},
     {"width": 218, "height": 58, "view": {"fill": "#EBEBEB", "stroke": null}, "data": {"name": "cq1mc"},
      "encoding": {
       "x": {"field": "x", "type": "quantitative", "scale": {"domain": [262.8, 415.8], "nice": false, "zero": false}, "axis": {"title": null, "values": [275,300,325,350,375,400], "format": "d", "labelExpr": "abs(datum.value/50-round(datum.value/50))>0.01?'':datum.label", "gridWidth": {"condition": {"test": "abs(datum.value/50-round(datum.value/50))>0.01", "value": 0.6}, "value": 1.3}, "tickOpacity": {"condition": {"test": "abs(datum.value/50-round(datum.value/50))>0.01", "value": 0}, "value": 1}}},
       "y": {"field": "d", "type": "quantitative", "scale": {"domain": [-0.00105, 0.0221], "nice": false, "zero": false}, "axis": {"title": null, "values": [0,0.0025,0.005,0.0075,0.01,0.0125,0.015,0.0175,0.02], "format": ".3f", "labelExpr": "abs(datum.value/0.005-round(datum.value/0.005))>0.01?'':datum.label", "gridWidth": {"condition": {"test": "abs(datum.value/0.005-round(datum.value/0.005))>0.01", "value": 0.6}, "value": 1.3}, "tickOpacity": {"condition": {"test": "abs(datum.value/0.005-round(datum.value/0.005))>0.01", "value": 0}, "value": 1}}}
      },
      "layer": [
       {"transform": [{"filter": "datum.T == 'EGAL+'"}], "mark": {"type": "area", "interpolate": "monotone", "fillOpacity": 0.35}, "encoding": {"fill": {"field": "T", "type": "nominal", "scale": {"domain": ["EGAL+", "Manual"], "range": ["#F8766D", "#00BFC4"]}, "legend": null}, "y2": {"datum": 0}}},
       {"transform": [{"filter": "datum.T == 'Manual'"}], "mark": {"type": "area", "interpolate": "monotone", "fillOpacity": 0.35}, "encoding": {"fill": {"field": "T", "type": "nominal", "scale": {"domain": ["EGAL+", "Manual"], "range": ["#F8766D", "#00BFC4"]}, "legend": null}, "y2": {"datum": 0}}},
       {"mark": {"type": "line", "interpolate": "monotone", "color": "#000000", "strokeWidth": 1}, "encoding": {"detail": {"field": "T", "type": "nominal"}}}
      ]}
    ]}
   ]},
   {"spacing": 14, "hconcat": [
    {"spacing": 0, "vconcat": [
     {"width": 211, "height": 27, "view": {"fill": "#D9D9D9", "stroke": null}, "data": {"values": [{"s": "Quarter 2 - Essay"}]}, "mark": {"type": "text", "fontSize": 14, "color": "#1A1A1A", "font": "Liberation Sans"}, "encoding": {"text": {"field": "s", "type": "nominal"}}},
     {"width": 211, "height": 58, "view": {"fill": "#EBEBEB", "stroke": null}, "data": {"name": "cq2e"},
      "encoding": {
       "x": {"field": "x", "type": "quantitative", "scale": {"domain": [15.7, 56], "nice": false, "zero": false}, "axis": {"title": null, "values": [20,25,30,35,40,45,50,55], "format": "d", "labelExpr": "abs(datum.value/10-round(datum.value/10))>0.01?'':datum.label", "gridWidth": {"condition": {"test": "abs(datum.value/10-round(datum.value/10))>0.01", "value": 0.6}, "value": 1.3}, "tickOpacity": {"condition": {"test": "abs(datum.value/10-round(datum.value/10))>0.01", "value": 0}, "value": 1}}},
       "y": {"field": "d", "type": "quantitative", "scale": {"domain": [-0.0072, 0.1507], "nice": false, "zero": false}, "axis": {"title": null, "values": [0,0.025,0.05,0.075,0.1,0.125,0.15], "format": ".2f", "labelExpr": "abs(datum.value/0.05-round(datum.value/0.05))>0.01?'':datum.label", "gridWidth": {"condition": {"test": "abs(datum.value/0.05-round(datum.value/0.05))>0.01", "value": 0.6}, "value": 1.3}, "tickOpacity": {"condition": {"test": "abs(datum.value/0.05-round(datum.value/0.05))>0.01", "value": 0}, "value": 1}}}
      },
      "layer": [
       {"transform": [{"filter": "datum.T == 'EGAL+'"}], "mark": {"type": "area", "interpolate": "monotone", "fillOpacity": 0.35}, "encoding": {"fill": {"field": "T", "type": "nominal", "scale": {"domain": ["EGAL+", "Manual"], "range": ["#F8766D", "#00BFC4"]}, "legend": null}, "y2": {"datum": 0}}},
       {"transform": [{"filter": "datum.T == 'Manual'"}], "mark": {"type": "area", "interpolate": "monotone", "fillOpacity": 0.35}, "encoding": {"fill": {"field": "T", "type": "nominal", "scale": {"domain": ["EGAL+", "Manual"], "range": ["#F8766D", "#00BFC4"]}, "legend": null}, "y2": {"datum": 0}}},
       {"mark": {"type": "line", "interpolate": "monotone", "color": "#000000", "strokeWidth": 1}, "encoding": {"detail": {"field": "T", "type": "nominal"}}}
      ]}
    ]},
    {"spacing": 0, "vconcat": [
     {"width": 210, "height": 27, "view": {"fill": "#D9D9D9", "stroke": null}, "data": {"values": [{"s": "Quarter 2 - Multiplechoice"}]}, "mark": {"type": "text", "fontSize": 14, "color": "#1A1A1A", "font": "Liberation Sans"}, "encoding": {"text": {"field": "s", "type": "nominal"}}},
     {"width": 210, "height": 58, "view": {"fill": "#EBEBEB", "stroke": null}, "data": {"name": "cq2mc"},
      "encoding": {
       "x": {"field": "x", "type": "quantitative", "scale": {"domain": [254.7, 475], "nice": false, "zero": false}, "axis": {"title": null, "values": [275,300,325,350,375,400,425], "format": "d", "labelExpr": "abs(datum.value/50-round(datum.value/50))>0.01?'':datum.label", "gridWidth": {"condition": {"test": "abs(datum.value/50-round(datum.value/50))>0.01", "value": 0.6}, "value": 1.3}, "tickOpacity": {"condition": {"test": "abs(datum.value/50-round(datum.value/50))>0.01", "value": 0}, "value": 1}}},
       "y": {"field": "d", "type": "quantitative", "scale": {"domain": [-0.0025, 0.0525], "nice": false, "zero": false}, "axis": {"title": null, "values": [0,0.005,0.01,0.015,0.02,0.025,0.03,0.035,0.04,0.045,0.05], "format": ".2f", "labelExpr": "abs(datum.value/0.01-round(datum.value/0.01))>0.01?'':datum.label", "gridWidth": {"condition": {"test": "abs(datum.value/0.01-round(datum.value/0.01))>0.01", "value": 0.6}, "value": 1.3}, "tickOpacity": {"condition": {"test": "abs(datum.value/0.01-round(datum.value/0.01))>0.01", "value": 0}, "value": 1}}}
      },
      "layer": [
       {"transform": [{"filter": "datum.T == 'EGAL+'"}], "mark": {"type": "area", "interpolate": "monotone", "fillOpacity": 0.35}, "encoding": {"fill": {"field": "T", "type": "nominal", "scale": {"domain": ["EGAL+", "Manual"], "range": ["#F8766D", "#00BFC4"]}, "legend": null}, "y2": {"datum": 0}}},
       {"transform": [{"filter": "datum.T == 'Manual'"}], "mark": {"type": "area", "interpolate": "monotone", "fillOpacity": 0.35}, "encoding": {"fill": {"field": "T", "type": "nominal", "scale": {"domain": ["EGAL+", "Manual"], "range": ["#F8766D", "#00BFC4"]}, "legend": null}, "y2": {"datum": 0}}},
       {"mark": {"type": "line", "interpolate": "monotone", "color": "#000000", "strokeWidth": 1}, "encoding": {"detail": {"field": "T", "type": "nominal"}}}
      ]}
    ]}
   ]}
  ]
 }]
}
]}
]
}
